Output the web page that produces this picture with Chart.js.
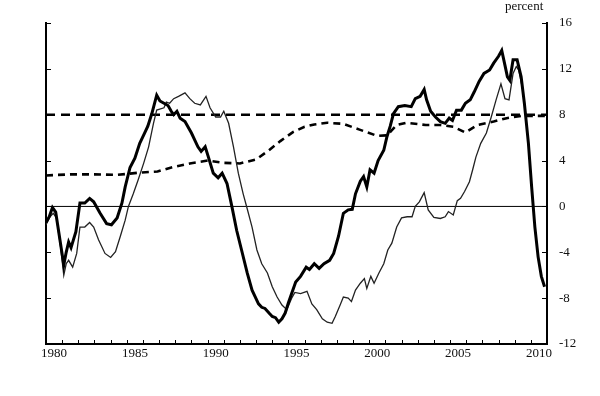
<!DOCTYPE html>
<html>
<head>
<meta charset="utf-8">
<script src="https://cdn.jsdelivr.net/npm/chart.js@4/dist/chart.umd.min.js"></script>
<style>
  body { margin: 0; background: #fff; }
  #wrap { position: relative; width: 600px; height: 396px; }
  #unit { position: absolute; left: 505px; top: -2px; font: 13px "Liberation Serif", serif; color: #111; }
</style>
</head>
<body>
<div id="wrap">
  <canvas id="chart"></canvas>
  <div id="unit">percent</div>
</div>
<script>
/* series: x = year (fractional), y = percent */
var thickYears = [1980.0, 1980.2, 1980.4, 1980.6, 1980.85, 1981.1, 1981.25, 1981.4, 1981.55, 1981.7, 1981.85,
  1982.1, 1982.4, 1982.7, 1982.95, 1983.35, 1983.75, 1984.05, 1984.4, 1984.7, 1984.9, 1985.2, 1985.5, 1985.8,
  1986.1, 1986.3, 1986.55, 1986.85, 1987.05, 1987.3, 1987.55, 1987.75, 1987.9, 1988.1, 1988.3, 1988.6, 1989.0,
  1989.4, 1989.6, 1989.85, 1990.05, 1990.35, 1990.65, 1990.9, 1991.2, 1991.5, 1991.8, 1992.1, 1992.45, 1992.75,
  1993.15, 1993.35, 1993.55, 1993.8, 1994.0, 1994.2, 1994.4, 1994.6, 1994.8, 1995.0, 1995.2, 1995.45, 1995.75,
  1996.1, 1996.3, 1996.6, 1996.9, 1997.2, 1997.55, 1997.8, 1998.1, 1998.4, 1998.7, 1998.95, 1999.15, 1999.45,
  1999.65, 1999.85, 2000.05, 2000.3, 2000.55, 2000.9, 2001.1, 2001.3, 2001.5, 2001.8, 2002.2, 2002.6, 2002.85,
  2003.15, 2003.4, 2003.55, 2003.8, 2004.1, 2004.4, 2004.7, 2004.95, 2005.15, 2005.4, 2005.7, 2005.95, 2006.25,
  2006.5, 2006.8, 2007.1, 2007.45, 2007.7, 2008.0, 2008.2, 2008.4, 2008.55, 2008.7, 2008.9, 2009.15, 2009.4,
  2009.6, 2009.85, 2010.05, 2010.25, 2010.45, 2010.65, 2010.85];
var thickVals = [-1.4, -0.9, -0.1, -0.5, -2.8, -5.1, -4.0, -3.1, -3.6, -2.9, -2.2,
  0.3, 0.3, 0.7, 0.4, -0.6, -1.5, -1.6, -1.0, 0.3, 1.7, 3.4, 4.2, 5.5,
  6.4, 7.0, 8.1, 9.7, 9.2, 9.0, 8.8, 8.3, 8.0, 8.3, 7.7, 7.4, 6.4,
  5.2, 4.8, 5.2, 4.3, 2.9, 2.5, 2.9, 2.0, 0.0, -2.1, -3.8, -5.8, -7.3,
  -8.5, -8.8, -8.9, -9.3, -9.6, -9.7, -10.1, -9.8, -9.3, -8.4, -7.6, -6.6, -6.1,
  -5.3, -5.5, -5.0, -5.4, -5.0, -4.7, -4.1, -2.6, -0.6, -0.3, -0.25, 1.1, 2.2,
  2.6, 1.7, 3.2, 2.9, 4.0, 4.9, 6.1, 7.0, 8.1, 8.7, 8.8, 8.7, 9.4,
  9.6, 10.2, 9.3, 8.3, 7.8, 7.4, 7.25, 7.7, 7.5, 8.4, 8.4, 9.0, 9.3,
  10.0, 10.9, 11.6, 11.9, 12.5, 13.1, 13.6, 12.3, 11.3, 11.0, 12.8, 12.8, 11.3,
  9.0, 5.5, 1.7, -1.8, -4.4, -6.1, -7.0];

var thinYears = [1980.0, 1980.25, 1980.45, 1980.65, 1980.9, 1981.1, 1981.25, 1981.4, 1981.65, 1981.9,
  1982.1, 1982.4, 1982.7, 1982.95, 1983.25, 1983.65, 1984.0, 1984.3, 1984.6, 1984.9, 1985.1, 1985.4, 1985.7,
  1986.05, 1986.35, 1986.65, 1986.85, 1987.3, 1987.45, 1987.65, 1987.9, 1988.2, 1988.6, 1988.9, 1989.2, 1989.55,
  1989.9, 1990.15, 1990.5, 1990.8, 1991.0, 1991.3, 1991.6, 1991.9, 1992.2, 1992.45, 1992.75, 1993.05, 1993.35,
  1993.7, 1994.0, 1994.3, 1994.6, 1994.9, 1995.2, 1995.4, 1995.75, 1996.15, 1996.45, 1996.75, 1997.1, 1997.4,
  1997.7, 1997.9, 1998.2, 1998.4, 1998.7, 1998.9, 1999.15, 1999.45, 1999.7, 1999.85, 2000.1, 2000.3, 2000.6,
  2000.9, 2001.15, 2001.4, 2001.7, 2002.0, 2002.35, 2002.65, 2002.85, 2003.1, 2003.4, 2003.65, 2004.0, 2004.4,
  2004.7, 2004.9, 2005.2, 2005.45, 2005.65, 2005.9, 2006.2, 2006.4, 2006.6, 2006.9, 2007.25, 2007.55, 2007.85,
  2008.15, 2008.4, 2008.65, 2008.9, 2009.1, 2009.25, 2009.45];
var thinVals = [-1.6, -0.9, -0.6, -1.0, -3.5, -6.0, -5.0, -4.7, -5.3, -4.1,
  -1.8, -1.8, -1.4, -1.8, -2.9, -4.1, -4.45, -3.95, -2.6, -1.2, 0.0, 1.1, 2.3,
  3.8, 5.2, 7.25, 8.4, 8.6, 9.1, 9.0, 9.4, 9.6, 9.9, 9.4, 9.0, 8.85,
  9.6, 8.6, 7.8, 7.8, 8.3, 7.25, 5.2, 2.9, 1.1, -0.2, -1.8, -3.8, -5.0,
  -5.8, -7.0, -7.9, -8.6, -9.0, -8.0, -7.5, -7.6, -7.4, -8.5, -9.0, -9.8, -10.1,
  -10.2, -9.6, -8.6, -7.9, -8.0, -8.3, -7.3, -6.7, -6.3, -7.15, -6.1, -6.7, -5.8,
  -5.0, -3.8, -3.2, -1.8, -1.0, -0.9, -0.9, 0.0, 0.4, 1.2, -0.3, -0.95, -1.05,
  -0.9, -0.45, -0.75, 0.5, 0.7, 1.3, 2.15, 3.2, 4.3, 5.5, 6.4, 7.8, 9.3,
  10.7, 9.4, 9.3, 11.6, 12.2, 11.9, 10.5];

var trendYears = [1980.0, 1981.5, 1983.0, 1984.4, 1985.8, 1986.9, 1987.9, 1988.9, 1990.0, 1991.0, 1992.0,
  1993.0, 1993.8, 1994.5, 1995.3, 1996.0, 1996.6, 1997.4, 1998.4, 1999.4, 2000.5, 2001.1, 2001.7, 2002.3,
  2003.5, 2004.4, 2005.2, 2005.95, 2006.7, 2007.7, 2008.5, 2009.4, 2010.9];
var trendVals = [2.7, 2.8, 2.8, 2.75, 2.95, 3.05, 3.45, 3.75, 4.0, 3.8, 3.75,
  4.1, 4.9, 5.7, 6.5, 6.95, 7.15, 7.3, 7.2, 6.7, 6.15, 6.2, 7.1, 7.3,
  7.1, 7.1, 6.95, 6.45, 7.1, 7.4, 7.7, 7.9, 7.9];

var spanYears = [1980, 2011];
var targetVals = [8, 8];
var zeroVals = [0, 0];

var yTickStep = 4;
var yMin = -12, yMax = 16;
var labelEvery = 5;

function pts(xs, ys) {
  return xs.map(function(x, i) { return { x: x, y: ys[i] }; });
}

var serif = { family: 'Liberation Serif', size: 13 };

/* small tick marks pointing into the plot, like the original */
var inwardTicks = {
  id: 'inwardTicks',
  afterDraw: function(chart) {
    var ctx = chart.ctx, a = chart.chartArea, sx = chart.scales.x, sy = chart.scales.y;
    ctx.save();
    ctx.strokeStyle = '#000';
    ctx.lineWidth = 1;
    ctx.beginPath();
    for (var yr = spanYears[0] + 1; yr < spanYears[1]; yr++) {
      var px = Math.round(sx.getPixelForValue(yr)) + 0.5;
      ctx.moveTo(px, a.bottom);
      ctx.lineTo(px, a.bottom - 4);
    }
    sy.ticks.forEach(function(t) {
      var py = Math.round(sy.getPixelForValue(t.value)) + 0.5;
      ctx.moveTo(a.left, py); ctx.lineTo(a.left + 5, py);
      ctx.moveTo(a.right, py); ctx.lineTo(a.right - 5, py);
    });
    ctx.stroke();
    ctx.restore();
  }
};

var ctx = document.getElementById('chart');
var myChart = new Chart(ctx, {
  type: 'line',
  data: {
    datasets: [{
      data: pts(thickYears, thickVals),
      borderColor: '#000', borderWidth: 3
    }, {
      data: pts(thinYears, thinVals),
      borderColor: '#222', borderWidth: 1.3
    }, {
      data: pts(trendYears, trendVals),
      borderColor: '#000', borderWidth: 2.6, borderDash: [7, 5]
    }, {
      data: pts(spanYears, targetVals),
      borderColor: '#000', borderWidth: 2.6, borderDash: [9, 6]
    }, {
      data: pts(spanYears, zeroVals),
      borderColor: '#000', borderWidth: 1
    }]
  },
  options: {
    responsive: true,
    maintainAspectRatio: false,
    animation: false,
    layout: { padding: { top: 23 } },
    elements: { point: { radius: 0 }, line: { tension: 0 } },
    plugins: { legend: { display: false }, tooltip: { enabled: false } },
    scales: {
      x: {
        type: 'linear', min: spanYears[0], max: spanYears[1],
        grid: { display: false, drawTicks: false },
        border: { display: true, color: '#000', width: 2 },
        ticks: {
          stepSize: 0.5, autoSkip: false, maxRotation: 0, padding: 2,
          font: serif, color: '#111',
          callback: function(v) {
            var yr = Math.floor(v);
            if (Math.abs(v - yr - 0.5) < 1e-6 && yr % labelEvery === 0) return String(yr);
            return '';
          }
        },
        afterFit: function(s) { s.height = 52; }
      },
      y: {
        position: 'right', min: yMin, max: yMax,
        grid: { display: false, drawTicks: false },
        border: { display: true, color: '#000', width: 2 },
        ticks: { stepSize: yTickStep, padding: 12, font: serif, color: '#111' },
        afterFit: function(s) { s.width = 53; }
      },
      yL: {
        position: 'left', min: yMin, max: yMax,
        grid: { display: false, drawTicks: false },
        border: { display: true, color: '#000', width: 2 },
        ticks: { display: false },
        afterFit: function(s) { s.width = 46; }
      }
    }
  },
  plugins: [inwardTicks]
});
</script>
</body>
</html>
